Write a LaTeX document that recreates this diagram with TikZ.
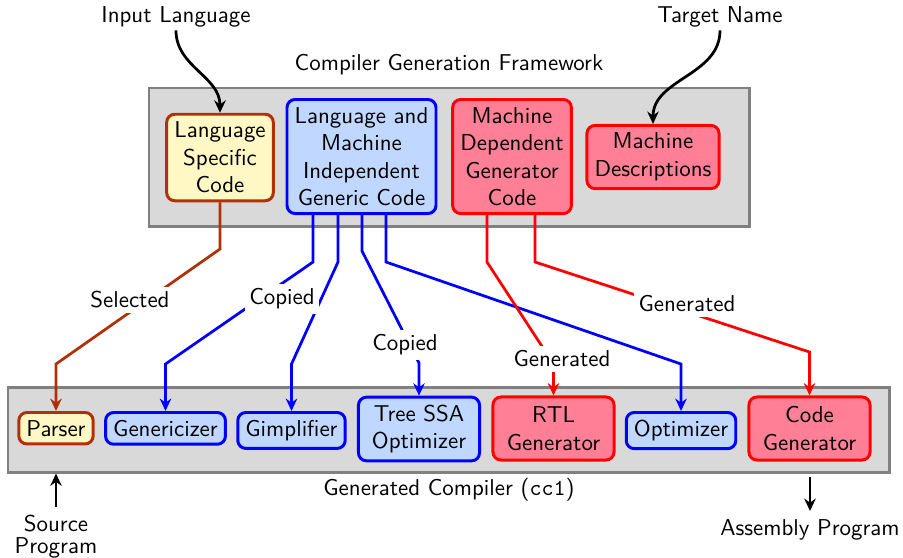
\documentclass[tikz,border=0pt]{standalone}
\usetikzlibrary{arrows.meta,calc,fit}

\definecolor{fwgray}{RGB}{217,217,217}
\definecolor{edgegray}{RGB}{128,128,128}
\definecolor{lsyellow}{RGB}{255,248,196}
\definecolor{lsbrown}{RGB}{176,48,8}
\definecolor{genblue}{RGB}{192,216,255}
\definecolor{mdpink}{RGB}{255,128,150}

\begin{document}
\begin{tikzpicture}[x=0.436pt,y=-0.436pt,
  every node/.style={font=\sffamily},
  container/.style={draw=edgegray, fill=fwgray, line width=1.3pt, inner sep=0pt},
  part/.style={rounded corners=3.5pt, line width=1.3pt, align=center},
  langpart/.style={part, draw=lsbrown, fill=lsyellow},
  genpart/.style={part, draw=blue, fill=genblue},
  machpart/.style={part, draw=red, fill=mdpink},
  stage/.style={minimum width=52.8pt, minimum height=27.5pt},
  link/.style={line width=1.2pt, -{Stealth[length=5.4pt,width=5pt]}},
  tag/.style={fill=white, inner sep=2pt},
]
\useasboundingbox (0,0) rectangle (903,557);

% ---- compiler generation framework ----
\node[container, fit={(149,88) (749,226)}] (fw) {};
\node (fwlabel) at (449,65) {Compiler Generation Framework};

\node[langpart] (lsc) at (220,157.5) {Language\\Specific\\Code};
\node[genpart] (lmi) at (361.5,156.5) {Language and\\Machine\\Independent\\Generic Code};
\node[machpart] (mdg) at (512,156.5) {Machine\\Dependent\\Generator\\Code};
\node[machpart] (mdesc) at (653,157) {Machine\\Descriptions};

\node (inlang) at (176,17) {Input Language};
\node (tgt) at (720,17) {Target Name};

\draw[link] ($(inlang.south)+(0,-5)$) to[out=-90,in=90] (lsc.north);
\draw[link] ($(tgt.south)+(0,-5)$) to[out=-90,in=90] (mdesc.north);

% ---- generated compiler ----
\node[container, fit={(8,387) (889,472)}] (cc) {};
\node (cclabel) at (449,490) {Generated Compiler (\texttt{cc1})};

\node[langpart, anchor=north] (parser) at (56,411) {Parser};
\node[genpart, anchor=north] (genz) at (165.5,411) {Genericizer};
\node[genpart, anchor=north] (gimp) at (291.5,411) {Gimplifier};
\node[genpart, stage] (tssa) at (419,429) {Tree SSA\\Optimizer};
\node[machpart, stage] (rtl) at (553.5,428.5) {RTL\\Generator};
\node[genpart, anchor=north] (opt) at (681,411) {Optimizer};
\node[machpart, stage] (cgen) at (809.5,428.5) {Code\\Generator};

\node[align=center, anchor=north] (src) at (56,507) {Source\\[-2.5pt]Program};
\node[anchor=north] (asm) at (810,511) {Assembly Program};

\draw[link] (src.north) -- (src.north |- cc.south);
\draw[link] ($(cc.south -| asm.north)+(0,3)$) -- (asm.north);

% ---- derivation links ----
\draw[link, draw=lsbrown] (lsc.south) -- (220,249) -- (56,364) -- (parser.north);

\draw[link, blue] ($(lmi.south)+(-48.5,0)$) -- ++(0,47) -- (165.5,364) -- (genz.north);
\draw[link, blue] ($(lmi.south)+(-23.5,0)$) -- ++(0,47) -- (291.5,364) -- (gimp.north);
\draw[link, blue] ($(lmi.south)+(0.5,0)$) -- ++(0,36) -- (419,363) -- (tssa.north);
\draw[link, blue] ($(lmi.south)+(24.5,0)$) -- ++(0,47) -- (681,364) -- (opt.north);

\draw[link, red] ($(mdg.south)+(-25,0)$) -- ++(0,47) -- (553.5,364) -- (rtl.north);
\draw[link, red] ($(mdg.south)+(23,0)$) -- ++(0,47) -- (809.5,352) -- (cgen.north);

\node[tag] (sel) at (130,300) {Selected};
\node[tag] (cp1) at (282,299) {Copied};
\node[tag] (cp2) at (405,345) {Copied};
\node[tag] (gen1) at (562,359) {Generated};
\node[tag] (gen2) at (687,304) {Generated};
\end{tikzpicture}
\end{document}
